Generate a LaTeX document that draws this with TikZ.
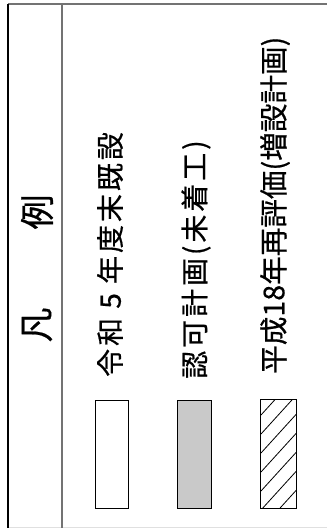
\documentclass[tikz,border=0pt]{standalone}
\usepackage{fontspec}
\newfontfamily\jp{Noto Sans CJK JP}[FakeBold=0.6]
\newfontfamily\jpls{Noto Sans CJK JP}[LetterSpace=10.5,FakeBold=0.6]
\begin{document}
\begin{tikzpicture}[x=1pt,y=-1pt,
  hdr/.style={rotate=90,inner sep=0pt,font=\jp\fontsize{35}{38}\selectfont},
  lbl/.style={rotate=90,anchor=west,inner sep=0pt,font=\jpls\fontsize{28}{30}\selectfont},
  lbltight/.style={rotate=90,anchor=west,inner sep=0pt,font=\jp\fontsize{28.6}{30}\selectfont},
  swatch/.style={draw=black,line width=0.9pt}]
\useasboundingbox (0,0) rectangle (327,529);
\fill[white] (0,0) rectangle (327,529);
% frame
\coordinate (tl) at (8,4);
\coordinate (tr) at (327,4);
\coordinate (bl) at (8,527.5);
\coordinate (br) at (327,527.5);
\coordinate (dt) at (62,4);
\coordinate (db) at (62,527.5);
\draw[line width=1.6pt,black!55] (tl) -- (tr);
\draw[line width=1.2pt,black!12] (bl) -- (br);
\draw[line width=1.6pt,black!55] (dt) -- (db);
\draw[line width=1.4pt,black] (tl) -- (bl);
% header
\node[hdr] (h1) at (37,325) {凡};
\node[hdr] (h2) at (37,212) {例};
% labels
\node[lbl] (t1) at (110,377) {令和 5 年度末既設};
\node[lbl] (t2) at (196,379) {認可計画(未着工)};
\node[lbltight] (t3) at (275,374) {平成18年再評価(増設計画)};
% swatches
\node[swatch,fill=white,minimum width=33pt,minimum height=108pt,inner sep=0pt] (s1) at (111.5,454) {};
\node[swatch,fill=black!21,minimum width=34pt,minimum height=108pt,inner sep=0pt] (s2) at (194,454) {};
\node[minimum width=35pt,minimum height=108pt,inner sep=0pt] (s3) at (278.5,454) {};
\begin{scope}
  \clip (s3.south west) rectangle (s3.north east);
  \foreach \k in {-2,...,8}{
    \draw[line width=0.8pt] (261,415+19*\k) -- (296,415+19*\k-38.5);
  }
\end{scope}
\draw[swatch] (s3.south west) rectangle (s3.north east);
\end{tikzpicture}
\end{document}
